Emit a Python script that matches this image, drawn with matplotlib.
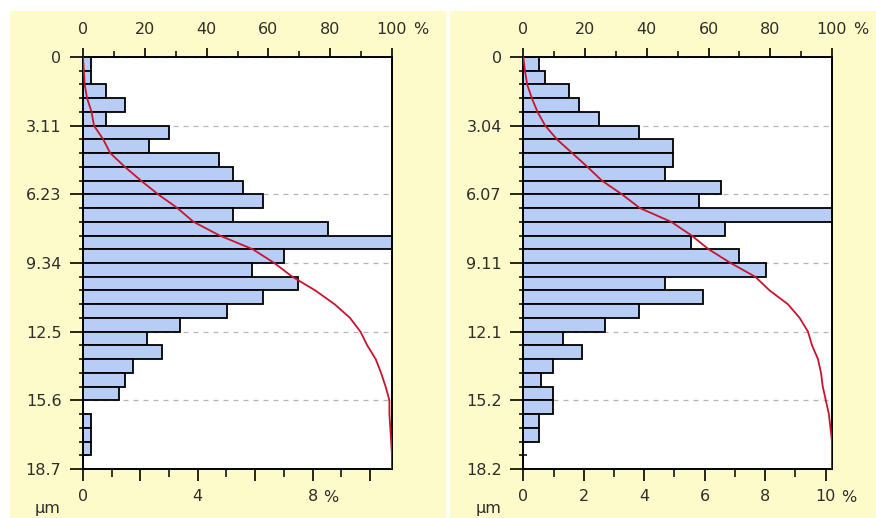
import numpy as np
import matplotlib
matplotlib.use("Agg")
import matplotlib.pyplot as plt
from matplotlib.patches import Rectangle
from matplotlib.ticker import MultipleLocator, FixedLocator, FuncFormatter

plt.rcParams['font.family'] = ['DejaVu Sans']

# left panel: 30 size classes, frequency in %
left_depth_max = 18.7
left_depth_labels = ['0', '3.11', '6.23', '9.34', '12.5', '15.6', '18.7']
left_freq = [0.27, 0.27, 0.79, 1.46, 0.79, 3.01, 2.30, 4.75, 5.24, 5.59,
             6.28, 5.24, 8.53, 10.8, 6.99, 5.88, 7.48, 6.28, 5.03, 3.38,
             2.24, 2.74, 1.75, 1.47, 1.25, 0.0, 0.28, 0.28, 0.28, 0.0]
left_freq_max = 10.77
left_freq_labels = [0, 4, 8]

# right panel
right_depth_max = 18.21
right_depth_labels = ['0', '3.04', '6.07', '9.11', '12.1', '15.2', '18.2']
right_freq = [0.53, 0.73, 1.52, 1.85, 2.51, 3.83, 4.96, 4.96, 4.69, 6.55,
              5.81, 10.2, 6.67, 5.55, 7.14, 8.02, 4.69, 5.95, 3.83, 2.71,
              1.32, 1.93, 0.99, 0.58, 0.99, 0.99, 0.51, 0.51, 0.0, 0.0]
right_freq_max = 10.21
right_freq_labels = [0, 2, 4, 6, 8, 10]

cum_ticks = [0, 20, 40, 60, 80, 100]

BG = '#fefbcb'
BAR = '#b7cdf5'
RED = '#c8142e'
TXT = '#2e2e2a'
FS = 11.5

W, H = 876, 518
fig = plt.figure(figsize=(W / 100, H / 100), dpi=100, facecolor='white')

# yellow panel backgrounds
for x0, x1 in [(10, 446), (450, 876)]:
    fig.patches.append(Rectangle((x0 / W, 0), (x1 - x0) / W, (H - 11) / H,
                                 transform=fig.transFigure, facecolor=BG,
                                 edgecolor='none', zorder=-10))


def panel(left_px, right_px, depth_max, depth_labels, freq, freq_max,
          freq_labels, pct_off):
    top_px, bot_px = 57, 469
    ax = fig.add_axes([left_px / W, (H - bot_px) / H,
                       (right_px - left_px) / W, (bot_px - top_px) / H])
    ax.set_facecolor('white')
    n = len(freq)
    edges = np.linspace(0, depth_max, n + 1)
    bw = depth_max / n

    ax.barh(edges[:-1], freq, height=bw, align='edge', color=BAR,
            edgecolor='black', linewidth=1.3, zorder=2)
    ax.set_xlim(0, freq_max)
    ax.set_ylim(depth_max, 0)

    major_y = np.linspace(0, depth_max, len(depth_labels))
    ax.yaxis.set_major_locator(FixedLocator(major_y))
    ax.set_yticklabels(depth_labels)
    ax.yaxis.set_minor_locator(FixedLocator(edges))
    ax.yaxis.grid(True, which='major', linestyle=(0, (4, 4)),
                  color='#b5b5b5', linewidth=0.9)
    ax.set_axisbelow(True)

    ax.xaxis.set_major_locator(MultipleLocator(2))
    ax.xaxis.set_minor_locator(MultipleLocator(1))
    ax.xaxis.set_major_formatter(FuncFormatter(
        lambda v, p: f'{v:g}' if round(v) in freq_labels else ''))

    ax.tick_params(axis='y', which='major', direction='out', length=9.5,
                   width=1.2, pad=6, labelsize=FS, labelcolor=TXT)
    ax.tick_params(axis='y', which='minor', direction='inout', length=5.5,
                   width=1.1)
    ax.tick_params(axis='x', which='major', direction='out', length=8.5,
                   width=1.2, pad=6, labelsize=FS, labelcolor=TXT, top=False)
    ax.tick_params(axis='x', which='minor', direction='out', length=5.5,
                   width=1.1, top=False)
    for s in ax.spines.values():
        s.set_linewidth(1.4)

    cum = np.concatenate([[0], np.cumsum(freq)])
    cum = cum / cum[-1] * 100

    ax2 = ax.twiny()
    ax2.plot(cum, edges, color=RED, linewidth=1.3, zorder=5)
    ax2.set_xlim(0, 100)
    ax2.xaxis.set_major_locator(FixedLocator(cum_ticks))
    ax2.xaxis.set_minor_locator(MultipleLocator(10))
    ax2.tick_params(axis='x', which='major', direction='out', length=6.5,
                    width=1.2, pad=8, labelsize=FS, labelcolor=TXT)
    ax2.tick_params(axis='x', which='minor', direction='out', length=4.3,
                    width=1.1)
    for s in ax2.spines.values():
        s.set_visible(False)

    ax.annotate('%', xy=(freq_labels[-1], 0), xycoords=('data', 'axes fraction'),
                xytext=(pct_off, -28), textcoords='offset pixels',
                ha='left', va='center', fontsize=FS, color=TXT)
    ax2.annotate('%', xy=(100, 1), xycoords=('data', 'axes fraction'),
                 xytext=(21, 27), textcoords='offset pixels',
                 ha='left', va='center', fontsize=FS, color=TXT)
    fig.text((left_px - 35) / W, 1 - 509 / H, 'µm', ha='center',
             va='center', fontsize=FS, color=TXT)


panel(83, 392, left_depth_max, left_depth_labels, left_freq, left_freq_max,
      left_freq_labels, 11)
panel(523.3, 832, right_depth_max, right_depth_labels, right_freq,
      right_freq_max, right_freq_labels, 15)

fig.savefig('out.png', dpi=100, facecolor=fig.get_facecolor())
